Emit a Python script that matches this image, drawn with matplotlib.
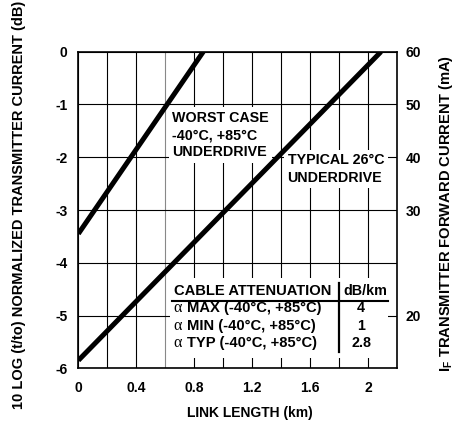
import matplotlib
matplotlib.use("Agg")
import matplotlib.pyplot as plt
from matplotlib.patches import Rectangle
import numpy as np

plt.rcParams['font.family'] = ['Liberation Sans', 'DejaVu Sans']
plt.rcParams['font.weight'] = 'bold'
plt.rcParams['axes.labelweight'] = 'bold'
plt.rcParams['mathtext.fontset'] = 'custom'
plt.rcParams['mathtext.rm'] = 'Liberation Sans:bold'
plt.rcParams['mathtext.bf'] = 'Liberation Sans:bold'

# link length (km) vs normalized transmitter current (dB)
worst_x = [0.0, 0.8625]
worst_y = [-3.45, 0.0]
typ_x = [0.0, 2.09]
typ_y = [-5.85, 0.0]

x_ticks = [0, 0.4, 0.8, 1.2, 1.6, 2.0]
x_tick_labels = ['0', '0.4', '0.8', '1.2', '1.6', '2']
x_grid = [0.2, 0.6, 1.0, 1.4, 1.8]
y_ticks = [0, -1, -2, -3, -4, -5, -6]
right_ticks = [0, -1, -2, -3, -5]
right_labels = ['60', '50', '40', '30', '20']

table_rows = ['MAX (-40°C, +85°C)', 'MIN (-40°C, +85°C)', 'TYP (-40°C, +85°C)']
table_vals = ['4', '1', '2.8']

fig = plt.figure(figsize=(4.61, 4.24), dpi=100)
ax = fig.add_axes([0.170, 0.1314, 0.691, 0.7466])
ax.set_xlim(0, 2.2)
ax.set_ylim(-6, 0)

ax.set_xticks(x_ticks)
ax.set_xticklabels(x_tick_labels)
ax.set_xticks(x_grid, minor=True)
ax.set_yticks(y_ticks)
ax.set_yticklabels([str(v) for v in y_ticks])
ax.tick_params(axis='both', which='both', length=0, labelsize=10)
ax.tick_params(axis='x', pad=9)
ax.tick_params(axis='y', pad=8)
ax.grid(True, which='both', color='black', linewidth=0.8)
ax.set_axisbelow(True)
# the 0.6 km line is lighter in the original
for t, pos in zip(ax.xaxis.get_minor_ticks(), x_grid):
    if abs(pos - 0.6) < 1e-6:
        t.gridline.set_color('#888888')
for sp in ax.spines.values():
    sp.set_linewidth(1.2)

ax.plot(worst_x, worst_y, color='black', linewidth=3.6, zorder=5, solid_capstyle='butt')
ax.plot(typ_x, typ_y, color='black', linewidth=3.6, zorder=5, solid_capstyle='butt')

box = dict(facecolor='white', edgecolor='none', pad=2.5)
ax.text(0.648, -1.58, 'WORST CASE\n-40°C, +85°C\nUNDERDRIVE', ha='left', va='center',
        fontsize=10.3, linespacing=1.3, bbox=box, zorder=4)
ax.text(1.445, -2.22, 'TYPICAL 26°C\nUNDERDRIVE', ha='left', va='center',
        fontsize=10.3, linespacing=1.3, bbox=box, zorder=4)

# cable attenuation table
ax.add_patch(Rectangle((0.63, -5.8), 1.51, 1.51, facecolor='white', edgecolor='none', zorder=3))
ax.text(0.657, -4.53, 'CABLE ATTENUATION', ha='left', va='center', fontsize=10.6, zorder=4)
ax.text(1.98, -4.53, 'dB/km', ha='center', va='center', fontsize=10.3, zorder=4)
ax.plot([0.648, 2.139], [-4.73, -4.73], color='black', linewidth=1.5, zorder=4)
ax.plot([1.8, 1.8], [-4.38, -5.69], color='black', linewidth=1.6, zorder=4)
for i, (name, val) in enumerate(zip(table_rows, table_vals)):
    yy = -4.86 - 0.335 * i
    ax.text(0.655, yy, 'α', ha='left', va='center', fontsize=11.5,
            fontweight='normal', family=['Liberation Serif'], zorder=4)
    ax.text(0.752, yy, name, ha='left', va='center', fontsize=10.6, zorder=4)
    ax.text(1.953, yy, val, ha='center', va='center', fontsize=10.3, zorder=4)

ax.set_xlabel('LINK LENGTH (km)', fontsize=10)
ax.xaxis.set_label_coords(0.539, -0.118)
ax.set_ylabel('10 LOG (t/to) NORMALIZED TRANSMITTER CURRENT (dB)', fontsize=10.5)
ax.yaxis.set_label_coords(-0.165, 0.515)

ax2 = ax.twinx()
ax2.set_ylim(-6, 0)
ax2.set_yticks(right_ticks)
ax2.set_yticklabels(right_labels)
ax2.tick_params(axis='y', length=0, labelsize=10, pad=6)
ax2.set_ylabel(r'$\mathbf{I_F}$ TRANSMITTER FORWARD CURRENT (mA)', fontsize=10.6,
               rotation=90)
ax2.yaxis.set_label_coords(1.125, 0.49)
for sp in ax2.spines.values():
    sp.set_visible(False)

fig.savefig('out.png', dpi=100)
